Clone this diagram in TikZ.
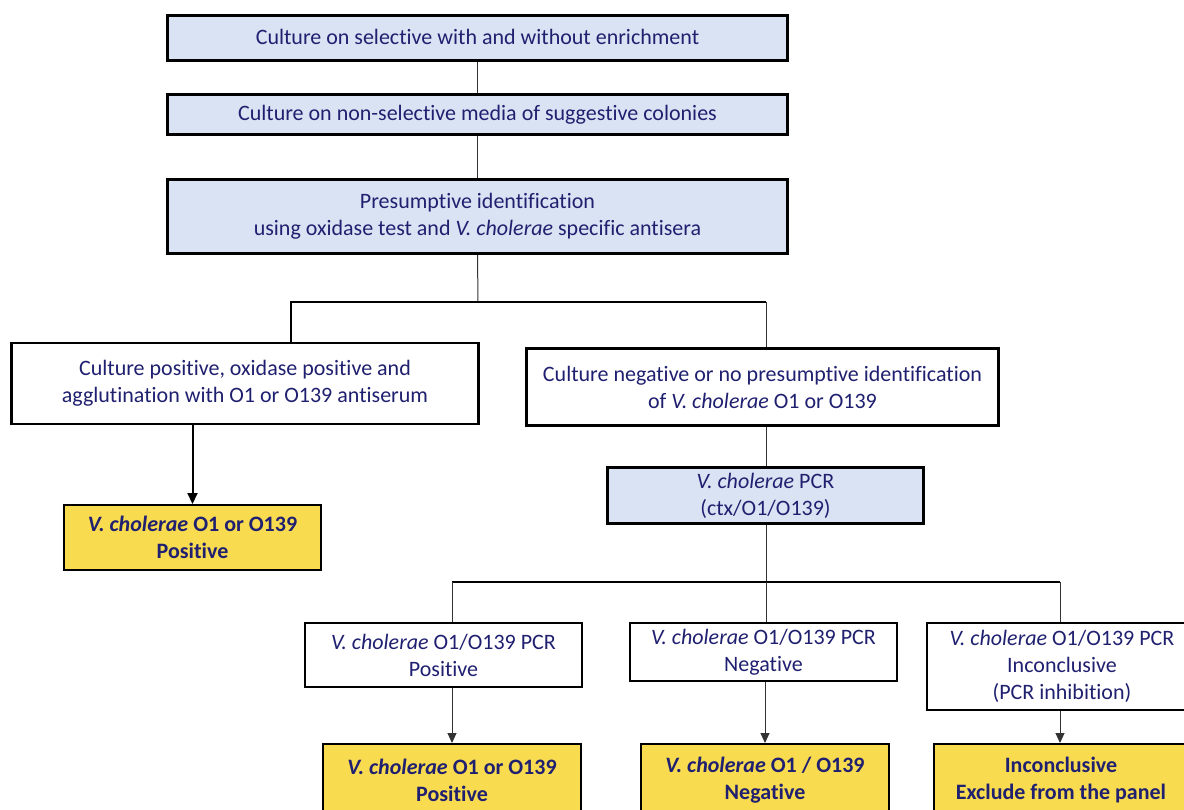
\documentclass[tikz,border=0pt]{standalone}
\usepackage{fontspec}
\setmainfont[RawFeature={-liga;-clig;-calt;-dlig}]{Carlito}
\usetikzlibrary{arrows.meta}
\definecolor{navy}{RGB}{32,32,112}
\definecolor{lblue}{RGB}{218,227,243}
\definecolor{gold}{RGB}{249,219,80}
\begin{document}
\begin{tikzpicture}[x=1pt,y=-1pt,
  box/.style={draw=black, align=center, inner sep=0pt, text=navy,
    font=\fontsize{22}{27}\selectfont},
  mainbox/.style={box, fill=lblue, line width=3pt},
  whitebox/.style={box, fill=white, line width=2.6pt},
  pcrbox/.style={box, fill=white, line width=1.8pt},
  goldbox/.style={box, fill=gold, line width=2pt, font=\fontsize{22}{27}\selectfont\bfseries},
  conn/.style={draw=black!80, line width=1pt},
  thickconn/.style={draw=black, line width=2pt},
  arr/.style={conn, -{Triangle[width=9pt,length=10pt]}},
  thickarr/.style={thickconn, -{Triangle[width=10pt,length=11pt]}}]
\useasboundingbox (0,0) rectangle (1184,809);
\clip (0,0) rectangle (1184,809);
\fill[white] (0,0) rectangle (1184,809);

\node[mainbox, minimum width=620pt, minimum height=45pt] (b1) at (477.5,38)
  {\raisebox{3pt}{Culture on selective with and without enrichment}};
\node[mainbox, minimum width=620pt, minimum height=40pt] (b2) at (477.5,114.5)
  {Culture on non-selective media of suggestive colonies};
\node[mainbox, minimum width=620pt, minimum height=74pt] (b3) at (477.5,216.5)
  {Presumptive identification\\using oxidase test and \textit{V. cholerae} specific antisera};

\node[whitebox, minimum width=467pt, minimum height=81pt] (bl) at (245,383.5)
  {Culture positive, oxidase positive and\\agglutination with O1 or O139 antiserum};
\node[whitebox, minimum width=472pt, minimum height=77pt] (br) at (762.5,387)
  {Culture negative or no presumptive identification\\of \textit{V. cholerae} O1 or O139};

\node[goldbox, minimum width=257pt, minimum height=65pt] (yl) at (192.5,537.5)
  {\textit{V. cholerae} O1 or O139\\Positive};

\node[mainbox, minimum width=316pt, minimum height=56pt] (pcr) at (765.5,495.5)
  {\textit{V. cholerae} PCR\\(ctx/O1/O139)};

\node[pcrbox, minimum width=277pt, minimum height=64pt] (p1) at (443.5,655)
  {\textit{V. cholerae} O1/O139 PCR\\Positive};
\node[pcrbox, minimum width=267pt, minimum height=58pt] (p2) at (763.5,652)
  {\textit{V. cholerae} O1/O139 PCR\\Negative};
\node[pcrbox, minimum width=270pt, minimum height=87pt] (p3) at (1062,666.5)
  {\textit{V. cholerae} O1/O139 PCR\\Inconclusive\\(PCR inhibition)};

\node[goldbox, minimum width=258pt, minimum height=72pt] (y1) at (452,780)
  {\textit{V. cholerae} O1 or O139\\Positive};
\node[goldbox, minimum width=248pt, minimum height=72pt] (y2) at (765,780)
  {\textit{V. cholerae} O1 / O139\\Negative};
\node[goldbox, minimum width=254pt, minimum height=72pt] (y3) at (1061,780)
  {Inconclusive\\Exclude from the panel};

% top chain
\draw[conn] (b1.south) -- (b2.north);
\draw[conn] (b2.south) -- (b3.north);
\coordinate (j1) at (478,302);
\coordinate (jl) at (291,302);
\coordinate (jr) at (766,302);
\draw[conn] (b3.south) -- (j1);
\draw[thickconn] (jl |- bl.north) -- (jl) -- (jr);
\draw[conn] (jr) -- (jr |- br.north);

% left branch
\draw[thickarr] (yl.north |- bl.south) -- (yl.north);

% right branch
\draw[conn] (br.south -| jr) -- (pcr.north -| jr);
\coordinate (k1) at (452,582);
\coordinate (k2) at (766,582);
\coordinate (k3) at (1060,582);
\draw[conn] (pcr.south -| k2) -- (k2);
\draw[thickconn] (k1) -- (k3);
\draw[conn] (k1) -- (k1 |- p1.north);
\draw[conn] (k2) -- (k2 |- p2.north);
\draw[conn] (k3) -- (k3 |- p3.north);

\draw[arr] (y1.north |- p1.south) -- (y1.north);
\draw[arr] (y2.north |- p2.south) -- (y2.north);
\draw[arr] (k3 |- p3.south) -- (k3 |- y3.north);
\end{tikzpicture}
\end{document}
